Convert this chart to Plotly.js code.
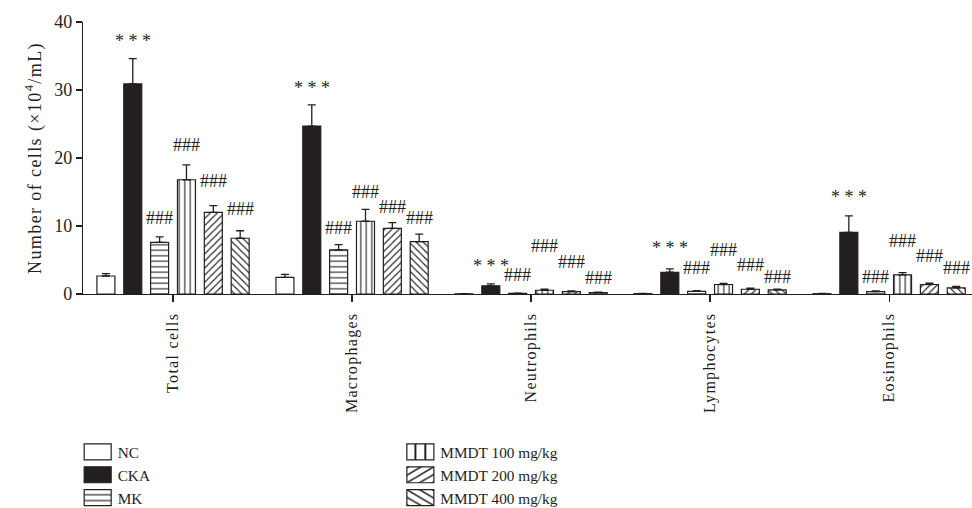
<!DOCTYPE html>
<html>
<head>
<meta charset="utf-8">
<script src="https://cdn.plot.ly/plotly-3.0.1.min.js"></script>
<style>
html,body{margin:0;padding:0;background:#fff;}
#chart{width:972px;height:508px;}
#chart .xtick text{letter-spacing:1.3px;}
#chart .ytitle{letter-spacing:1.4px;}
#chart .legendpoints path{transform:translate(20px,0px) scale(2.25,1.33);vector-effect:non-scaling-stroke;}
</style>
</head>
<body>
<div id="chart"></div>
<script>
const categories = ["Total cells", "Macrophages", "Neutrophils", "Lymphocytes", "Eosinophils"];
const seriesNames = ["NC", "CKA", "MK", "MMDT 100 mg/kg", "MMDT 200 mg/kg", "MMDT 400 mg/kg"];
const ncMean    = [2.65, 2.45, 0.03, 0.05, 0.05];
const ncErr     = [0.35, 0.45, 0.02, 0.02, 0.02];
const ckaMean   = [30.9, 24.7, 1.2, 3.2, 9.05];
const ckaErr    = [3.7, 3.1, 0.3, 0.5, 2.45];
const mkMean    = [7.6, 6.5, 0.1, 0.4, 0.35];
const mkErr     = [0.8, 0.75, 0.03, 0.1, 0.1];
const m100Mean  = [16.8, 10.7, 0.55, 1.4, 2.8];
const m100Err   = [2.2, 1.75, 0.15, 0.15, 0.35];
const m200Mean  = [12.0, 9.65, 0.35, 0.7, 1.4];
const m200Err   = [1.0, 0.85, 0.1, 0.15, 0.2];
const m400Mean  = [8.2, 7.7, 0.2, 0.6, 0.9];
const m400Err   = [1.1, 1.1, 0.08, 0.1, 0.2];
const sigLabels = ["", "* * *", "###", "###", "###", "###"];
// heights (in axis units) at which the significance marks are printed
const ckaSigAt  = [37.7, 30.7, 4.5, 7.2, 14.7];
const mkSigAt   = [11.2, 9.65, 2.8, 3.8, 2.55];
const m100SigAt = [21.9, 15.0, 7.0, 6.4, 7.8];
const m200SigAt = [16.6, 12.8, 4.75, 4.25, 5.6];
const m400SigAt = [12.5, 11.2, 2.3, 2.45, 3.8];

const means = [ncMean, ckaMean, mkMean, m100Mean, m200Mean, m400Mean];
const errs  = [ncErr, ckaErr, mkErr, m100Err, m200Err, m400Err];
const sigAt = [null, ckaSigAt, mkSigAt, m100SigAt, m200SigAt, m400SigAt];
const ink = "#231f20";
const fills = [
  {color: "#ffffff"},
  {color: ink},
  {color: "#ffffff", pattern: {shape: "-", fgcolor: ink, bgcolor: "#ffffff", size: 5.5, solidity: 0.2}},
  {color: "#ffffff", pattern: {shape: "|", fgcolor: ink, bgcolor: "#ffffff", size: 5.5, solidity: 0.2}},
  {color: "#ffffff", pattern: {shape: "/", fgcolor: ink, bgcolor: "#ffffff", size: 5, solidity: 0.22}},
  {color: "#ffffff", pattern: {shape: "\\", fgcolor: ink, bgcolor: "#ffffff", size: 5, solidity: 0.22}}
];
const xIdx = categories.map((c, i) => i);
const bargap = 0.1;
const slot = (1 - bargap) / seriesNames.length;

const traces = seriesNames.map((name, j) => ({
  type: "bar",
  name: name,
  x: xIdx,
  y: means[j],
  legend: j < 3 ? "legend" : "legend2",
  marker: Object.assign({line: {color: ink, width: 1.2}}, fills[j]),
  error_y: {type: "data", symmetric: false, array: errs[j], arrayminus: errs[j].map(() => 0),
            color: ink, thickness: 1.3, width: 4},
  hoverinfo: "skip"
}));

const annotations = [];
seriesNames.forEach((name, j) => {
  if (!sigLabels[j]) return;
  categories.forEach((c, i) => {
    annotations.push({
      x: i + (j - (seriesNames.length - 1) / 2) * slot,
      y: sigAt[j][i],
      xref: "x", yref: "y",
      text: sigLabels[j], showarrow: false,
      yanchor: "middle", yshift: j === 1 ? -3 : 0,
      font: {family: "Liberation Serif, serif", size: 18, color: ink}
    });
  });
});

const layout = {
  width: 972, height: 508,
  margin: {l: 83, r: 0, t: 22, b: 214, autoexpand: false},
  paper_bgcolor: "#ffffff", plot_bgcolor: "#ffffff",
  font: {family: "Liberation Serif, serif", color: ink},
  barmode: "group", bargap: bargap, bargroupgap: 0.33,
  showlegend: true,
  xaxis: {
    range: [-0.503, 4.463], tickvals: xIdx, ticktext: categories,
    tickangle: -90, ticks: "outside", ticklen: 7, tickcolor: ink, tickwidth: 1.2,
    ticklabelstandoff: 4,
    showline: true, linecolor: ink, linewidth: 1.2, showgrid: false, zeroline: false,
    tickfont: {size: 16, family: "Liberation Serif, serif"}, automargin: false
  },
  yaxis: {
    range: [0, 40], dtick: 10, ticks: "outside", ticklen: 6, tickcolor: ink, tickwidth: 1.2,
    showline: true, linecolor: ink, linewidth: 1.2, showgrid: false, zeroline: false,
    tickfont: {size: 18, family: "Liberation Serif, serif"}, automargin: false,
    title: {text: "Number of cells (×10<sup>4</sup>/mL)", font: {size: 18, family: "Liberation Serif, serif"}, standoff: 8}
  },
  legend: {x: -0.006, xanchor: "left", y: -0.52, yanchor: "top", orientation: "v",
           font: {size: 15.3, family: "Liberation Serif, serif"}, tracegroupgap: 0, bgcolor: "rgba(0,0,0,0)"},
  legend2: {x: 0.357, xanchor: "left", y: -0.52, yanchor: "top", orientation: "v",
           font: {size: 15.3, family: "Liberation Serif, serif"}, tracegroupgap: 0, bgcolor: "rgba(0,0,0,0)"},
  annotations: annotations
};

Plotly.newPlot("chart", traces, layout, {staticPlot: true, displayModeBar: false});
</script>
</body>
</html>
